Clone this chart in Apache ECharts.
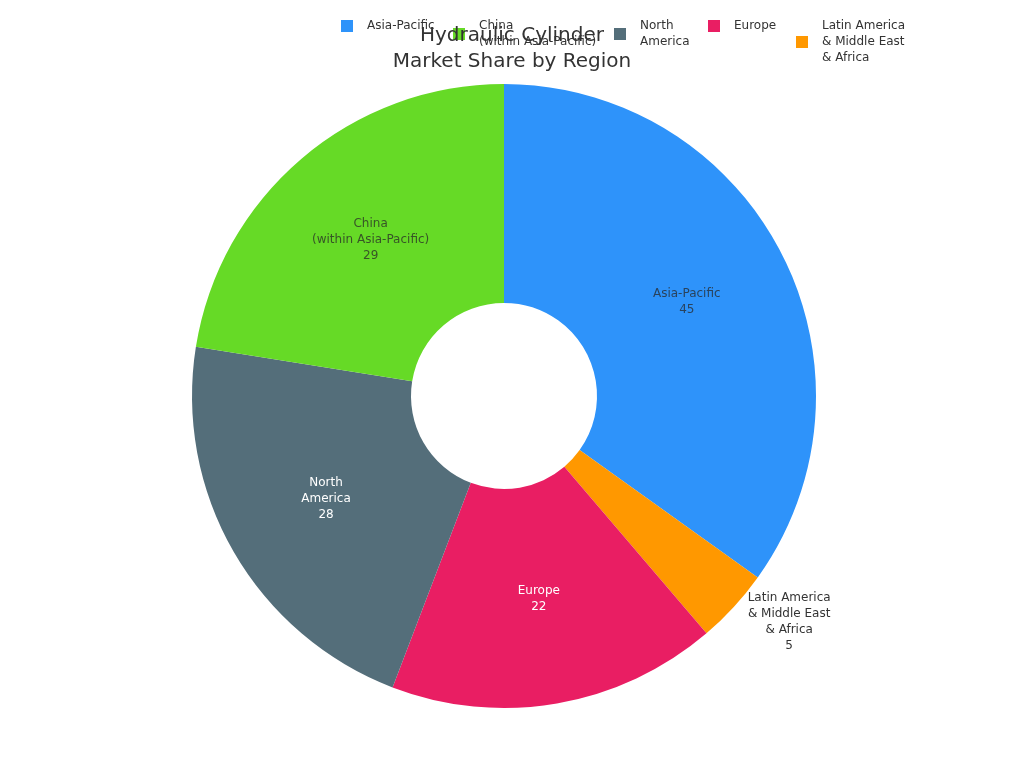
<!DOCTYPE html>
<html><head><meta charset="utf-8">
<script src="https://cdn.jsdelivr.net/npm/echarts@6/dist/echarts.min.js"></script>
<style>html,body{margin:0;padding:0;background:#fff}#c{width:1024px;height:768px}</style>
</head><body><div id="c"></div>
<script>
const categories = ['Asia-Pacific', 'China\n(within Asia-Pacific)', 'North\nAmerica', 'Europe', 'Latin America\n& Middle East\n& Africa'];
const values = [45, 29, 28, 22, 5];
const colors = ['#2E93FA', '#66DA26', '#546E7A', '#E91E63', '#FF9800'];
const labelColors = ['rgba(40,40,40,0.75)', 'rgba(40,40,40,0.75)', '#ffffff', '#ffffff', '#333333'];
// drawing order (clockwise from top)
const drawOrder = [0, 4, 3, 2, 1];
const legendLeft = [341, 453, 614, 708, 796];

const chart = echarts.init(document.getElementById('c'));
const data = drawOrder.map(i => {
  const d = {
    name: categories[i], value: values[i],
    itemStyle: { color: colors[i] },
    label: { color: labelColors[i] }
  };
  if (i === 4) {
    d.label.position = 'outside';
    d.label.padding = [14, 0, 0, 0];
    d.label.formatter = p => p.name.split('\n').concat([String(p.value)]).map(s => '{a|' + s + '}').join('\n');
    d.label.rich = { a: { align: 'center', fontFamily: 'DejaVu Sans', fontSize: 12, lineHeight: 16, color: '#333' } };
    d.labelLine = { show: false, length: 12, length2: 0 };
  }
  return d;
});
const legends = categories.map((c, i) => ({
  data: [c],
  left: legendLeft[i], top: 18, padding: 0,
  itemWidth: 12, itemHeight: 12,
  icon: 'rect',
  textStyle: { fontFamily: 'DejaVu Sans', fontSize: 12, color: '#333', lineHeight: 16, padding: [0, 0, 0, 9] }
}));
chart.setOption({
  animation: false,
  title: {
    text: 'Hydraulic Cylinder\nMarket Share by Region',
    left: 'center', top: 18,
    textStyle: { fontFamily: 'DejaVu Sans', fontSize: 20, fontWeight: 'normal', color: '#333', lineHeight: 26 }
  },
  legend: legends,
  series: [{
    type: 'pie',
    center: [504, 396],
    radius: [93, 312],
    startAngle: 90,
    clockwise: true,
    avoidLabelOverlap: false,
    data: data,
    itemStyle: { borderWidth: 0 },
    label: {
      show: true, position: 'inside',
      formatter: p => p.name + '\n' + p.value,
      fontFamily: 'DejaVu Sans', fontSize: 12, lineHeight: 16, align: 'center'
    },
    labelLine: { show: false }
  }]
});
</script></body></html>
